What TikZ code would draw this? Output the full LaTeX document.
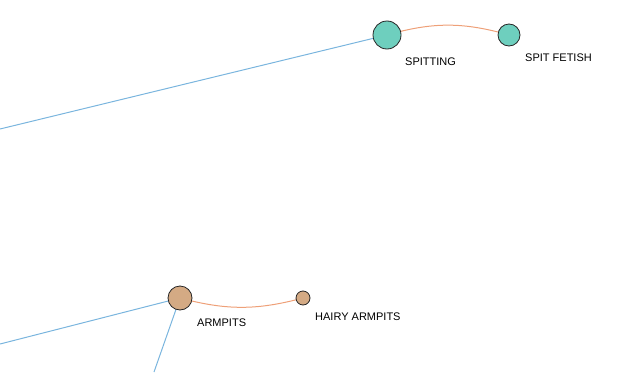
\documentclass[tikz,border=0pt]{standalone}
\usepackage{fontspec}
\setmainfont{Liberation Sans}
\usetikzlibrary{backgrounds}
\definecolor{teal1}{RGB}{110,207,190}
\definecolor{tan1}{RGB}{212,170,132}
\definecolor{blue1}{RGB}{122,181,222}
\definecolor{orange1}{RGB}{238,160,120}
\tikzset{
  x=1pt,y=-1pt,
  ball/.style={circle,draw=black!85,line width=0.8pt,inner sep=0pt,minimum size=#1},
  lbl/.style={font=\fontsize{11}{13}\selectfont,anchor=west,inner sep=0pt},
  blueedge/.style={draw=blue1,line width=1pt},
  orangeedge/.style={draw=orange1,line width=1pt}
}
\begin{document}
\begin{tikzpicture}
\useasboundingbox (0,0) rectangle (620,372);
\node[ball=28pt,fill=teal1] (spit) at (387,35) {};
\node[ball=22pt,fill=teal1] (fetish) at (509,35) {};
\node[ball=24pt,fill=tan1] (arm) at (180,298) {};
\node[ball=14pt,fill=tan1] (hairy) at (303,298) {};
\node[lbl] (spitl) at (405,62) {SPITTING};
\node[lbl] (fetishl) at (525,58) {SPIT FETISH};
\node[lbl] (arml) at (197,323) {ARMPITS};
\node[lbl] (hairyl) at (315,317) {HAIRY ARMPITS};
\coordinate (e1) at (0,129);
\coordinate (e2) at (0,344);
\coordinate (e3) at (154,372);
\begin{scope}[on background layer]
\draw[blueedge] (spit.center) -- (e1);
\draw[blueedge] (arm.center) -- (e2);
\draw[blueedge] (arm.center) -- (e3);
\draw[orangeedge] (spit.center) to[bend left=16] (fetish.center);
\draw[orangeedge] (arm.center) to[bend right=15] (hairy.center);
\end{scope}
\end{tikzpicture}
\end{document}
